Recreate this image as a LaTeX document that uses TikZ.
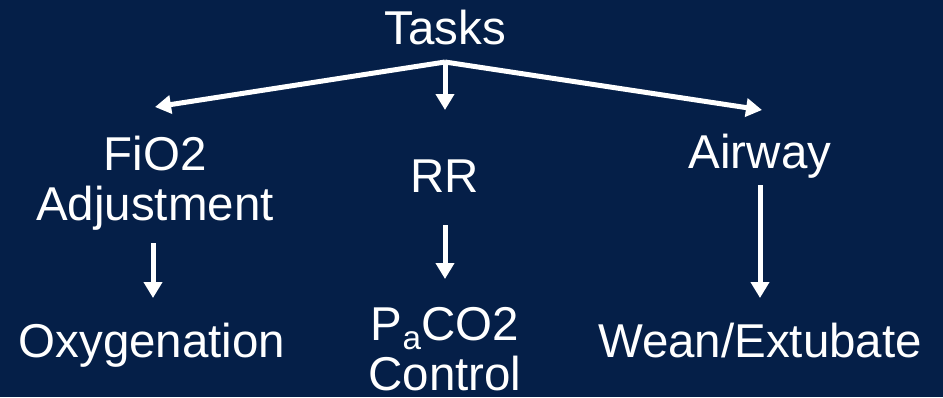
\documentclass[tikz,border=0pt]{standalone}
\usepackage{fontspec}
\setmainfont{Liberation Sans}
\usetikzlibrary{arrows.meta}
\definecolor{navy}{RGB}{5,31,72}
\tikzset{
  lbl/.style={text=white,font=\fontsize{47.5}{50}\selectfont,inner sep=0pt,anchor=base,align=center},
  arr/.style={draw=white,line width=5pt,-{Triangle[width=18pt,length=16pt]}}
}
\begin{document}
\begin{tikzpicture}[x=1pt,y=-1pt]
\fill[navy] (0,0) rectangle (943,397);
\useasboundingbox (0,0) rectangle (943,397);
\node[lbl] (tasks) at (445,44) {Tasks};
\node[lbl] (fio) at (155,220) {FiO2\\Adjustment};
\node[lbl] (rr) at (445,192) {RR};
\node[lbl] (air) at (760,168) {Airway};
\node[lbl] (oxy) at (152,357) {Oxygenation};
\node[lbl] (pa) at (445,390) {P\textsubscript{a}CO2\\Control};
\node[lbl] (wean) at (760,357) {Wean/Extubate};
\coordinate (j) at (445,62);
\coordinate (tl) at (155,107);
\coordinate (tm) at (445,110);
\coordinate (tr) at (762,110);
\coordinate (s1) at (153,243);
\coordinate (e1) at (153,298);
\coordinate (s2) at (445,225);
\coordinate (e2) at (445,279);
\coordinate (s3) at (760,185);
\coordinate (e3) at (760,298);
\draw[arr] (j) -- (tl);
\draw[arr] (j) -- (tm);
\draw[arr] (j) -- (tr);
\draw[arr] (s1) -- (e1);
\draw[arr] (s2) -- (e2);
\draw[arr] (s3) -- (e3);
\end{tikzpicture}
\end{document}
